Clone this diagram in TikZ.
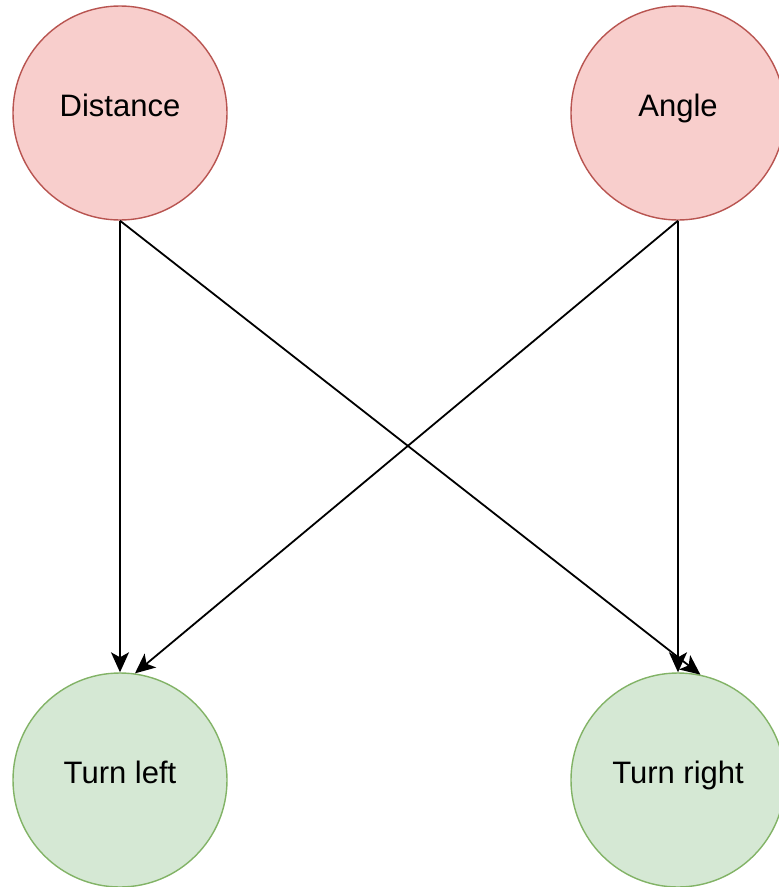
\documentclass[tikz,border=0pt]{standalone}
\usepackage{fontspec}
\setmainfont{Liberation Sans}
\usetikzlibrary{arrows.meta}
\definecolor{redfill}{HTML}{F8CECC}
\definecolor{redline}{HTML}{B85450}
\definecolor{greenfill}{HTML}{D5E8D4}
\definecolor{greenline}{HTML}{82B366}
\begin{document}
\begin{tikzpicture}[x=1pt,y=-1pt,
  basebox/.style={circle,minimum size=214pt,inner sep=0pt,line width=1.4pt,font=\fontsize{31}{37}\selectfont,text height=0.75em,text depth=0.15em},
  inbox/.style={basebox,draw=redline,fill=redfill},
  outbox/.style={basebox,draw=greenline,fill=greenfill},
  conn/.style={line width=1.8pt,-{Stealth[length=20pt,width=18pt,inset=5pt]}}]
\useasboundingbox (0,0) rectangle (779,887);
\node[inbox] (d) at (120,113) {Distance};
\node[inbox] (a) at (678,113) {Angle};
\node[outbox] (tl) at (120,780) {Turn left};
\node[outbox] (tr) at (678,780) {Turn right};
\draw[conn] (d.south) -- (tl.north);
\draw[conn] (d.south) -- (tr.78);
\draw[conn] (a.south) -- (tl.82);
\draw[conn] (a.south) -- (tr.north);
\end{tikzpicture}
\end{document}
